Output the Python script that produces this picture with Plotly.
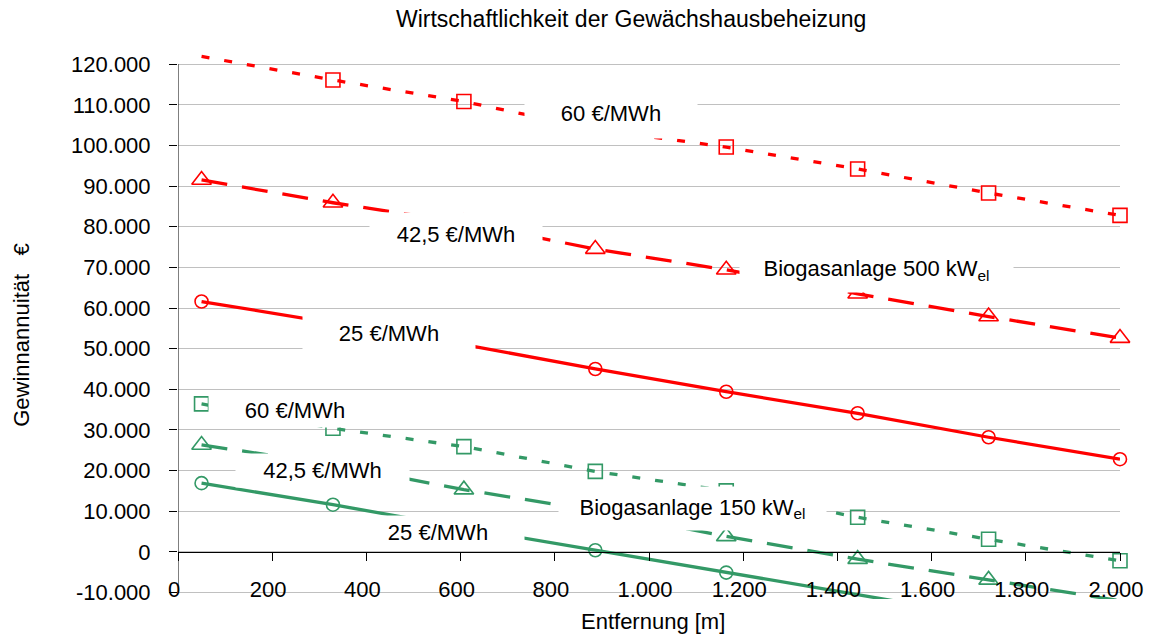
import plotly.graph_objects as go

# ---------------- data ----------------
x_dist = [50, 329, 607, 886, 1164, 1443, 1721, 2000]

red_60 = [121900, 116100, 110800, 104000, 99600, 94200, 88300, 82800]
red_425 = [91500, 85900, 81000, 74500, 69400, 63500, 57900, 52600]
red_25 = [61600, 56200, 51000, 45000, 39400, 34100, 28200, 22800]

green_60 = [36400, 30400, 25900, 19800, 15000, 8500, 3100, -2200]
green_425 = [26300, 21500, 15300, 10100, 3800, -1800, -6900, -12000]
green_25 = [16900, 11600, 5900, 400, -5100, -10600, -16000, -21300]

y_tick_vals = [-10000, 0, 10000, 20000, 30000, 40000, 50000, 60000,
               70000, 80000, 90000, 100000, 110000, 120000]
y_tick_text = ["-10.000", "0", "10.000", "20.000", "30.000", "40.000", "50.000",
               "60.000", "70.000", "80.000", "90.000", "100.000", "110.000", "120.000"]
x_tick_vals = [0, 200, 400, 600, 800, 1000, 1200, 1400, 1600, 1800, 2000]
x_tick_text = ["0", "200", "400", "600", "800", "1.000", "1.200", "1.400",
               "1.600", "1.800", "2.000"]

label_texts = ["60 €/MWh", "42,5 €/MWh", "Biogasanlage 500 kW<sub>el</sub>", "25 €/MWh",
               "60 €/MWh", "42,5 €/MWh", "Biogasanlage 150 kW<sub>el</sub>", "25 €/MWh"]

title_text = "Wirtschaftlichkeit der Gewächshausbeheizung"
x_title = "Entfernung [m]"
y_title = "Gewinnannuität\u00a0\u00a0 €"

# ---------------- styles ----------------
RED = "#FF0000"
GREEN = "#339966"
FONT = "Liberation Sans, Arial, sans-serif"
short_dash = "8px,15px"
long_dash = "26px,15px"

series = [
    (red_60, RED, short_dash, "square-open", 14),
    (red_425, RED, long_dash, "triangle-up-open", 17),
    (red_25, RED, "solid", "circle-open", 13),
    (green_60, GREEN, short_dash, "square-open", 14),
    (green_425, GREEN, long_dash, "triangle-up-open", 17),
    (green_25, GREEN, "solid", "circle-open", 13),
]

y_range = [-11600, 122500]
x_range = [0, 2000]
y_lo, y_hi = min(y_tick_vals), max(y_tick_vals)

fig = go.Figure()
for vals, col, dash, sym, size in series:
    fig.add_trace(go.Scatter(
        x=x_dist, y=vals, mode="lines",
        line=dict(color=col, width=3.3, dash=dash),
        showlegend=False, hoverinfo="skip"))
    # markers only where they lie inside the value axis
    my = [v if y_lo <= v <= y_hi else None for v in vals]
    fig.add_trace(go.Scatter(
        x=x_dist, y=my, mode="markers",
        marker=dict(symbol=sym, size=size, color=col, line=dict(color=col, width=1.6)),
        showlegend=False, cliponaxis=False))

# label boxes (data positions, box width/height in px)
label_pos = [(920, 108000, 172, 50), (590, 78300, 172, 42), (1484, 69400, 273, 44),
             (447, 53900, 172, 42), (249, 34800, 172, 33), (307, 20000, 173, 33),
             (1093, 10700, 267, 43), (553, 4900, 172, 32)]
for txt, (ax_, ay_, w, h) in zip(label_texts, label_pos):
    fig.add_annotation(x=ax_, y=ay_, xref="x", yref="y", text=txt, showarrow=False,
                       bgcolor="white", width=w, height=h, borderpad=0,
                       font=dict(family=FONT, size=22, color="black"))

# axis titles
fig.add_annotation(xref="paper", yref="paper", x=0.504, y=0, yshift=-22,
                   text=x_title, showarrow=False, yanchor="middle",
                   font=dict(family=FONT, size=22, color="black"))
fig.add_annotation(xref="paper", yref="paper", x=0, xshift=-156, y=0.483,
                   text=y_title, showarrow=False, textangle=-90,
                   xanchor="center", yanchor="middle",
                   font=dict(family=FONT, size=22, color="black"))

# value axis line
fig.add_shape(type="line", xref="x", yref="y", x0=0, x1=0, y0=y_lo, y1=y_hi,
              line=dict(color="black", width=1), layer="above")

zero_pos = (0 - y_range[0]) / (y_range[1] - y_range[0])

fig.update_layout(
    width=1156, height=637,
    margin=dict(l=178, r=30, t=54, b=38),
    paper_bgcolor="white", plot_bgcolor="white",
    title=dict(text=title_text, xref="container", yref="container",
               x=0.546, y=0.970, xanchor="center", yanchor="middle",
               font=dict(family=FONT, size=23, color="black")),
    font=dict(family=FONT, size=22, color="black"),
    xaxis=dict(range=x_range, anchor="free", position=zero_pos,
               showline=True, linecolor="black", linewidth=1,
               ticks="outside", ticklen=8, tickcolor="black", tickwidth=1,
               tickvals=x_tick_vals, ticktext=x_tick_text,
               ticklabelstandoff=10, ticklabelshift=-4,
               showgrid=False, zeroline=False,
               tickfont=dict(family=FONT, size=22, color="black")),
    yaxis=dict(range=y_range, showline=False,
               ticks="outside", ticklen=8, tickcolor="black", tickwidth=1,
               tickvals=y_tick_vals, ticktext=y_tick_text,
               ticklabelstandoff=14,
               showgrid=True, gridcolor="rgb(192,192,192)", gridwidth=1,
               zeroline=False,
               tickfont=dict(family=FONT, size=22, color="black")),
)

fig.write_html("out.html", config={"displayModeBar": False},
               post_script="document.body.style.margin='0';")
